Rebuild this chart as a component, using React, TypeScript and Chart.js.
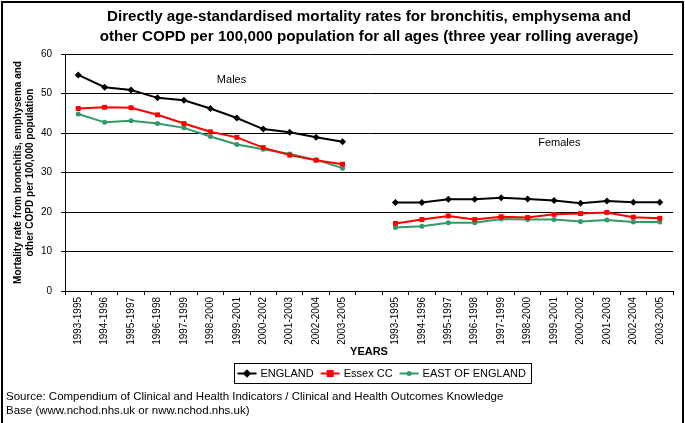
import React, { useEffect, useRef } from "react";
import { Chart, registerables } from "chart.js";
Chart.register(...registerables);

const FONT = '"Liberation Sans", Arial, Helvetica, sans-serif';

const titleLines = [
  "Directly age-standardised mortality rates for bronchitis, emphysema and",
  "other COPD per 100,000 population for all ages (three year rolling average)",
];
const yTitleLines = [
  "Mortality rate from bronchitis, emphysema and",
  "other COPD per 100,000 population",
];
const xTitle = "YEARS";
const sourceLines = [
  "Source: Compendium of Clinical and Health Indicators / Clinical and Health Outcomes Knowledge",
  "Base (www.nchod.nhs.uk or nww.nchod.nhs.uk)",
];

const periods = [
  "1993-1995", "1994-1996", "1995-1997", "1996-1998", "1997-1999", "1998-2000",
  "1999-2001", "2000-2002", "2001-2003", "2002-2004", "2003-2005",
];

const seriesNames = ["ENGLAND", "Essex CC", "EAST OF ENGLAND"];

const englandMales = [54.7, 51.6, 50.9, 48.9, 48.3, 46.2, 43.8, 41.0, 40.2, 38.9, 37.8];
const essexMales = [46.2, 46.5, 46.4, 44.6, 42.4, 40.3, 38.9, 36.3, 34.4, 33.1, 32.1];
const eastMales = [44.8, 42.7, 43.1, 42.4, 41.3, 39.1, 37.1, 35.9, 34.7, 33.2, 31.1];

const englandFemales = [22.4, 22.4, 23.2, 23.2, 23.6, 23.3, 22.9, 22.2, 22.8, 22.5, 22.5];
const essexFemales = [17.1, 18.1, 19.0, 18.1, 18.8, 18.6, 19.4, 19.6, 19.9, 18.7, 18.4];
const eastFemales = [16.1, 16.4, 17.3, 17.3, 18.2, 18.1, 18.1, 17.6, 18.0, 17.5, 17.5];

const yMin = 0;
const yMax = 60;
const yStep = 10;

const groupLabels = ["Males", "Females"];

const labels = [...periods, "", ...periods];
const join = (m: number[], f: number[]) => [...m, null, ...f];

const colors = ["#000000", "#ff0000", "#339966"];
const pointStyles = ["rectRot", "rect", "circle"];
const pointRadii = [3.5, 3.5, 2.5];

function drawMarker(ctx: CanvasRenderingContext2D, style: string, x: number, y: number, r: number, color: string) {
  ctx.fillStyle = color;
  ctx.beginPath();
  if (style === "rectRot") {
    ctx.moveTo(x, y - r * 1.2);
    ctx.lineTo(x + r * 1.2, y);
    ctx.lineTo(x, y + r * 1.2);
    ctx.lineTo(x - r * 1.2, y);
    ctx.closePath();
  } else if (style === "rect") {
    ctx.rect(x - r, y - r, r * 2, r * 2);
  } else {
    ctx.arc(x, y, r, 0, Math.PI * 2);
  }
  ctx.fill();
}

const decor = {
  id: "decor",
  afterDraw(chart: any) {
    const { ctx, chartArea, scales } = chart;
    ctx.save();
    ctx.fillStyle = "#000";
    // title
    ctx.font = `bold 15.2px ${FONT}`;
    ctx.textAlign = "center";
    ctx.textBaseline = "middle";
    const cx = (chartArea.left + chartArea.right) / 2;
    titleLines.forEach((t, i) => ctx.fillText(t, cx, 17 + i * 20));

    // group annotations
    ctx.font = `11px ${FONT}`;
    ctx.fillText(groupLabels[0], scales.x.getPixelForValue(5.8), scales.y.getPixelForValue(53.4));
    ctx.fillText(groupLabels[1], scales.x.getPixelForValue(18.2), scales.y.getPixelForValue(37.5));

    // legend
    ctx.font = `11px ${FONT}`;
    const lineLen = 19;
    const gapText = 4;
    const gapEntry = 7;
    const widths = seriesNames.map((n) => ctx.measureText(n).width);
    const total = widths.reduce((a, w) => a + lineLen + gapText + w, 0) + gapEntry * (seriesNames.length - 1);
    const padL = 3;
    const padR = 6;
    const boxW = total + padL + padR;
    const boxCx = 383;
    const boxL = Math.round(boxCx - boxW / 2) + 0.5;
    const boxT = 363.5;
    const boxH = 20;
    ctx.strokeStyle = "#000";
    ctx.lineWidth = 1;
    ctx.strokeRect(boxL, boxT, Math.round(boxW), boxH);
    let x = boxL + padL;
    const ly = boxT + boxH / 2;
    seriesNames.forEach((n, i) => {
      ctx.strokeStyle = colors[i];
      ctx.lineWidth = 2;
      ctx.beginPath();
      ctx.moveTo(x, ly);
      ctx.lineTo(x + lineLen, ly);
      ctx.stroke();
      drawMarker(ctx, pointStyles[i], x + lineLen / 2, ly, pointRadii[i], colors[i]);
      ctx.fillStyle = "#000";
      ctx.textAlign = "left";
      ctx.fillText(n, x + lineLen + gapText, ly + 0.5);
      x += lineLen + gapText + widths[i] + gapEntry;
    });

    // source
    ctx.fillStyle = "#000";
    ctx.textAlign = "left";
    ctx.font = `11.5px ${FONT}`;
    sourceLines.forEach((t, i) => ctx.fillText(t, 6, 397 + i * 14));

    // outer border
    ctx.strokeStyle = "#000";
    ctx.lineWidth = 2;
    ctx.strokeRect(2, 2, 681, 440);
    ctx.restore();
  },
};

export default function App() {
  const ref = useRef<HTMLCanvasElement | null>(null);
  useEffect(() => {
    document.body.style.margin = "0";
    const canvas = ref.current;
    if (!canvas) return;
    const datasets = [
      join(englandMales, englandFemales),
      join(essexMales, essexFemales),
      join(eastMales, eastFemales),
    ].map((data, i) => ({
      label: seriesNames[i],
      data,
      borderColor: colors[i],
      backgroundColor: colors[i],
      borderWidth: 2,
      pointStyle: pointStyles[i],
      pointRadius: pointRadii[i],
      pointBorderWidth: 0,
      pointBackgroundColor: colors[i],
      spanGaps: false,
      tension: 0,
    }));
    const chart = new Chart(canvas, {
      type: "line",
      data: { labels, datasets: datasets as any },
      options: {
        responsive: false,
        animation: false,
        layout: { padding: { top: 54, left: 0, right: 12, bottom: 64 } },
        plugins: { legend: { display: false }, tooltip: { enabled: false }, title: { display: false } },
        scales: {
          x: {
            type: "category",
            offset: true,
            grid: { offset: true, drawOnChartArea: false, drawTicks: true, tickLength: 4, color: "#000" },
            border: { color: "#000", width: 1 },
            ticks: {
              autoSkip: false,
              maxRotation: 90,
              minRotation: 90,
              padding: 2,
              color: "#000",
              font: { family: FONT, size: 10 },
            },
            title: { display: true, text: xTitle, color: "#000", font: { family: FONT, size: 11, weight: "bold" }, padding: 0 },
            afterFit: (s: any) => { s.height = 68; },
          },
          y: {
            min: yMin,
            max: yMax,
            ticks: { stepSize: yStep, color: "#000", padding: 9, font: { family: FONT, size: 10 } },
            grid: { color: "#000", tickLength: 4, lineWidth: 1 },
            border: { color: "#000", width: 1 },
            title: { display: true, text: yTitleLines, color: "#000", font: { family: FONT, size: 10, weight: "bold" }, padding: { top: 12, bottom: 0 } },
            afterFit: (s: any) => { s.width = 65; },
          },
        },
      },
      plugins: [decor],
    } as any);
    return () => chart.destroy();
  }, []);
  return <canvas ref={ref} width={685} height={423} style={{ display: "block" }} />;
}
